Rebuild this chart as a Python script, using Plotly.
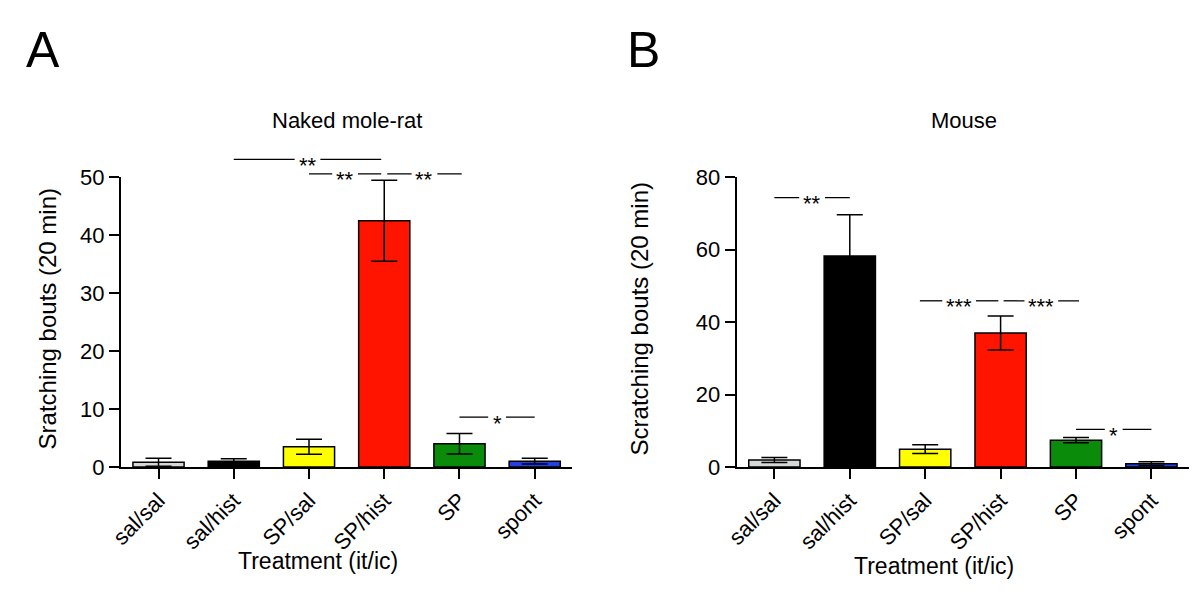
import plotly.graph_objects as go

# ---------------- data ----------------
categories = ["sal/sal", "sal/hist", "SP/sal", "SP/hist", "SP", "spont"]
nmr_mean = [0.8, 1.0, 3.5, 42.5, 4.0, 1.0]
nmr_sem = [0.7, 0.4, 1.3, 7.0, 1.75, 0.5]
mouse_mean = [1.9, 58.3, 4.9, 37.0, 7.4, 0.9]
mouse_sem = [0.7, 11.4, 1.2, 4.7, 0.7, 0.5]
bar_colors = ["#d5d9d5", "#000000", "#ffff00", "#ff1400", "#0a8c0a", "#2340e0"]

# significance brackets: start position, end position, level, label
nmr_sig_x0 = [1, 2, 3.04, 4]
nmr_sig_x1 = [2.96, 2.96, 4.03, 5]
nmr_sig_y = [53.1, 50.6, 50.6, 8.6]
nmr_sig_lab = ["**", "**", "**", "*"]

mouse_sig_x0 = [0, 1.93, 3.04, 4]
mouse_sig_x1 = [1, 2.97, 4.04, 5]
mouse_sig_y = [74.4, 45.9, 45.9, 10.4]
mouse_sig_lab = ["**", "***", "***", "*"]

nmr_yticks = [0, 10, 20, 30, 40, 50]
mouse_yticks = [0, 20, 40, 60, 80]

# ---------------- layout geometry ----------------
W, H = 1200, 606
DOM_BOT = 1 - 474.5 / H
DOM_TOP = 1 - 172.5 / H
SIG_TOP = 1 - 125 / H
XA = [110 / W, 566 / W]
XB = [732 / W, 1189 / W]
PX_PER_CAT = (XA[1] - XA[0]) * W / 6.0

FONT = "Liberation Sans, Arial, sans-serif"

cat_pos = list(range(len(categories)))

fig = go.Figure()

def add_bars(xaxis, yaxis, means, sems):
    fig.add_trace(go.Bar(
        x=cat_pos, y=means, xaxis=xaxis, yaxis=yaxis,
        width=0.68,
        marker=dict(color=bar_colors, line=dict(color="black", width=1.5)),
        error_y=dict(type="data", array=sems, symmetric=True,
                     color="black", thickness=1.5, width=13),
        showlegend=False, hovertext=categories, hoverinfo="text+y",
    ))

add_bars("x", "y", nmr_mean, nmr_sem)
add_bars("x2", "y2", mouse_mean, mouse_sem)

gap_px = {"*": 9, "**": 13, "***": 17}
annotations = []

def add_sig(xaxis, yaxis, x0s, x1s, ys, labs):
    for x0, x1, y, lab in zip(x0s, x1s, ys, labs):
        mid = (x0 + x1) / 2
        g = gap_px[lab] / PX_PER_CAT
        for a, b in ((x0, mid - g), (mid + g, x1)):
            fig.add_trace(go.Scatter(
                x=[a, b], y=[y, y], xaxis=xaxis, yaxis=yaxis,
                mode="lines", line=dict(color="black", width=1.3),
                showlegend=False, hoverinfo="skip",
            ))
        annotations.append(dict(
            x=mid, y=y, xref=xaxis, yref=yaxis, text=lab, showarrow=False,
            xanchor="center", yanchor="middle", yshift=-6,
            font=dict(family=FONT, size=22, color="black"),
        ))

add_sig("x", "y3", nmr_sig_x0, nmr_sig_x1, nmr_sig_y, nmr_sig_lab)
add_sig("x2", "y2", mouse_sig_x0, mouse_sig_x1, mouse_sig_y, mouse_sig_lab)

# hidden axis sharing y's scale but taller, so brackets above 50 are not clipped
sig_range_top = 50 * (SIG_TOP - DOM_BOT) / (DOM_TOP - DOM_BOT)

axis_common = dict(
    showline=True, linecolor="black", linewidth=2,
    ticks="outside", ticklen=10, tickwidth=2, tickcolor="black",
    showgrid=False, zeroline=False,
)
xcommon = dict(range=[-0.5, 5.5], tickvals=cat_pos, ticktext=categories,
               tickangle=-45, tickfont=dict(family=FONT, size=22, color="black"),
               **axis_common)
ycommon = dict(tickfont=dict(family=FONT, size=22, color="black"), **axis_common)

fig.update_layout(
    width=W, height=H,
    margin=dict(l=0, r=0, t=0, b=0),
    paper_bgcolor="white", plot_bgcolor="rgba(0,0,0,0)",
    xaxis=dict(domain=XA, anchor="y", **xcommon),
    yaxis=dict(domain=[DOM_BOT, DOM_TOP], anchor="x", range=[0, 50],
               tickvals=nmr_yticks, **ycommon),
    yaxis3=dict(domain=[DOM_BOT, SIG_TOP], anchor="x", range=[0, sig_range_top],
                visible=False, fixedrange=True),
    xaxis2=dict(domain=XB, anchor="y2", **xcommon),
    yaxis2=dict(domain=[DOM_BOT, DOM_TOP], anchor="x2", range=[0, 80],
                tickvals=mouse_yticks, **ycommon),
)

def paper_text(x, y, text, size, angle=0):
    annotations.append(dict(
        x=x / W, y=1 - y / H, xref="paper", yref="paper", text=text,
        showarrow=False, xanchor="center", yanchor="middle", textangle=angle,
        font=dict(family=FONT, size=size, color="black"),
    ))

paper_text(31, 40, "A", 50)
paper_text(638, 40, "B", 50)
paper_text(338, 113, "Naked mole-rat", 22)
paper_text(962, 113, "Mouse", 22)
paper_text(36, 320, "Sratching bouts (20 min)", 24, angle=-90)
paper_text(634, 320, "Scratching bouts (20 min)", 24, angle=-90)
paper_text(309, 573, "Treatment (it/ic)", 23)
paper_text(931, 578, "Treatment (it/ic)", 23)

fig.update_layout(annotations=annotations)

fig.write_html(
    "out.html",
    config={"displayModeBar": False},
    post_script="document.body.style.margin='0';document.body.style.overflow='hidden';",
)
